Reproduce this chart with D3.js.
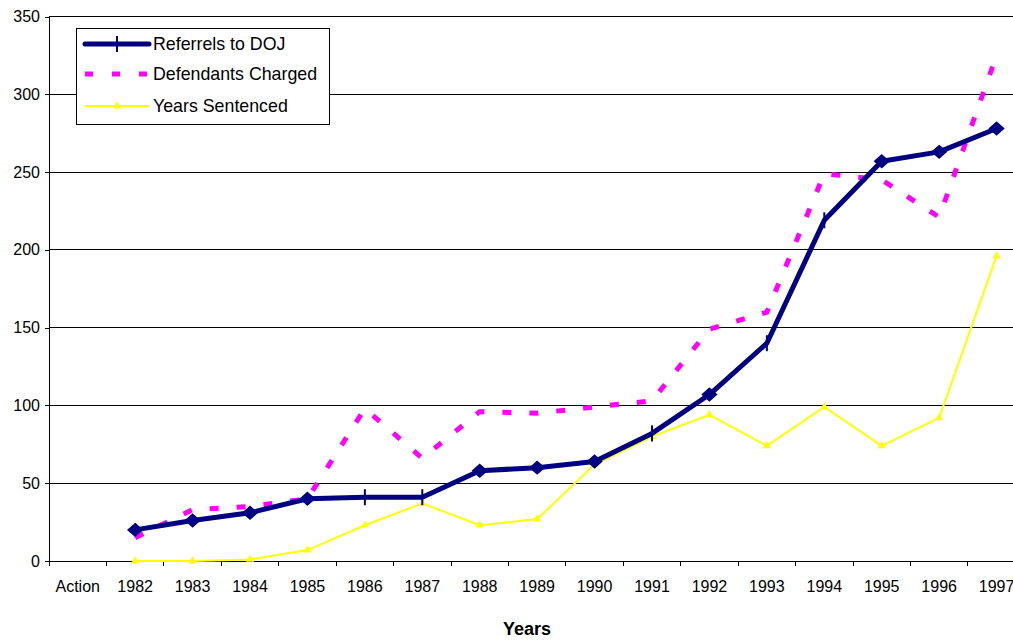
<!DOCTYPE html>
<html>
<head>
<meta charset="utf-8">
<script src="https://cdn.jsdelivr.net/npm/d3@7/dist/d3.min.js"></script>
<style>
  html, body { margin: 0; padding: 0; background: #fff; }
  svg { display: block; font-family: "Liberation Sans", Arial, sans-serif; }
</style>
</head>
<body>
<svg id="chart" width="1013" height="640"></svg>
<script>
// Category axis: the first slot is the "Action" label column, then the years
const categories = ["Action", "1982", "1983", "1984", "1985", "1986", "1987", "1988",
  "1989", "1990", "1991", "1992", "1993", "1994", "1995", "1996", "1997"];
const years = categories.slice(1);

const referrals = [20, 26, 31, 40, 41, 41, 58, 60, 64, 82, 107, 140, 219, 257, 263, 278];
// marker style per point of the referrals series ("d" = diamond, "t" = tick)
const referralMarkers = ["d", "d", "d", "d", "t", "t", "d", "d", "d", "t", "d", "t", "t", "d", "d", "d"];
const defendants = [15, 33, 35, 40, 98, 66, 96, 95, 99, 103, 149, 160, 249, 245, 221, 325];
const sentenced = [0, 0, 1, 7, 23, 37, 23, 27, 62, 80, 94, 74, 99, 74, 92, 196];

const yTicks = [0, 50, 100, 150, 200, 250, 300, 350];
const seriesNames = ["Referrels to DOJ", "Defendants Charged", "Years Sentenced"];

const svg = d3.select("#chart");
const plotLeft = 49, plotRight = 1025.3, plotTop = 16.5, plotBottom = 561;

const x = d3.scaleBand().domain(categories).range([plotLeft, plotRight]).padding(0);
const y = d3.scaleLinear().domain([0, 350]).range([plotBottom, plotTop]);
const cx = d => x(d) + x.bandwidth() / 2;

// horizontal gridlines
svg.append("g")
  .selectAll("line")
  .data(yTicks.filter(t => t > 0))
  .join("line")
  .attr("x1", plotLeft).attr("x2", 1013)
  .attr("y1", d => y(d)).attr("y2", d => y(d))
  .attr("stroke", "#000").attr("stroke-width", 1).attr("shape-rendering", "crispEdges");

// y axis
const yAxis = svg.append("g")
  .attr("transform", `translate(${plotLeft},0)`)
  .call(d3.axisLeft(y).tickValues(yTicks).tickSize(4).tickPadding(5).tickFormat(d3.format("d")));
yAxis.select(".domain").attr("stroke", "#000").attr("shape-rendering", "crispEdges");
yAxis.selectAll(".tick line").attr("shape-rendering", "crispEdges");
yAxis.selectAll("text").attr("font-size", 16).attr("fill", "#000")
  .attr("font-family", "Liberation Sans, Arial, sans-serif");

// x axis with ticks on category boundaries
const xAxis = svg.append("g").attr("transform", `translate(0,${plotBottom})`);
xAxis.append("line").attr("x1", plotLeft).attr("x2", 1013).attr("y1", 0).attr("y2", 0)
  .attr("stroke", "#000").attr("shape-rendering", "crispEdges");
xAxis.selectAll("line.bt")
  .data(categories)
  .join("line").attr("class", "bt")
  .attr("x1", d => x(d)).attr("x2", d => x(d))
  .attr("y1", 0).attr("y2", 5)
  .attr("stroke", "#000").attr("shape-rendering", "crispEdges");
xAxis.selectAll("text")
  .data(categories)
  .join("text")
  .attr("x", d => cx(d)).attr("y", 31)
  .attr("text-anchor", "middle").attr("font-size", 16).attr("fill", "#000")
  .text(d => d);

// axis title
svg.append("text")
  .attr("x", 527).attr("y", 635)
  .attr("text-anchor", "middle").attr("font-size", 18).attr("font-weight", "bold")
  .text("Years");

const line = d3.line().x((d, i) => cx(years[i])).y(d => y(d));

// Years Sentenced
svg.append("path").datum(sentenced)
  .attr("d", line).attr("fill", "none")
  .attr("stroke", "#FFFF00").attr("stroke-width", 2);
const tri = d3.symbol().type(d3.symbolTriangle).size(30);
svg.append("g").selectAll("path")
  .data(sentenced)
  .join("path")
  .attr("transform", (d, i) => `translate(${cx(years[i])},${y(d)})`)
  .attr("d", tri).attr("fill", "#FFFF00");

// Defendants Charged
svg.append("path").datum(defendants)
  .attr("d", line).attr("fill", "none")
  .attr("stroke", "#FF00FF").attr("stroke-width", 5)
  .attr("stroke-dasharray", "9,18");

// Referrals to DOJ
svg.append("path").datum(referrals)
  .attr("d", line).attr("fill", "none")
  .attr("stroke", "#000080").attr("stroke-width", 5).attr("stroke-linejoin", "round");

const diamond = "M0,-6.2L7,0L0,6.2L-7,0Z";
const rm = svg.append("g");
referrals.forEach((v, i) => {
  const px = cx(years[i]), py = y(v);
  if (referralMarkers[i] === "d") {
    rm.append("path").attr("d", diamond)
      .attr("transform", `translate(${px},${py})`)
      .attr("fill", "#000080").attr("stroke", "#000080").attr("stroke-width", 1.5);
  } else {
    rm.append("line").attr("x1", px).attr("x2", px)
      .attr("y1", py - 8).attr("y2", py + 8)
      .attr("stroke", "#000080").attr("stroke-width", 2);
  }
});

// legend
const lg = svg.append("g");
lg.append("rect").attr("x", 76.5).attr("y", 28.5).attr("width", 253).attr("height", 96)
  .attr("fill", "#fff").attr("stroke", "#000").attr("stroke-width", 1);
const rows = [44, 74, 106];
const lx1 = 85, lx2 = 149, lmid = 117;
// referrals sample
lg.append("line").attr("x1", lx1).attr("x2", lx2).attr("y1", rows[0]).attr("y2", rows[0])
  .attr("stroke", "#000080").attr("stroke-width", 5).attr("stroke-linecap", "round");
lg.append("line").attr("x1", lmid).attr("x2", lmid).attr("y1", rows[0] - 8).attr("y2", rows[0] + 8)
  .attr("stroke", "#000080").attr("stroke-width", 2);
// defendants sample
lg.append("line").attr("x1", lx1).attr("x2", lx2).attr("y1", rows[1]).attr("y2", rows[1])
  .attr("stroke", "#FF00FF").attr("stroke-width", 5).attr("stroke-dasharray", "8,19");
// sentenced sample
lg.append("line").attr("x1", lx1).attr("x2", lx2).attr("y1", rows[2]).attr("y2", rows[2])
  .attr("stroke", "#FFFF00").attr("stroke-width", 2);
lg.append("path").attr("d", tri).attr("transform", `translate(${lmid},${rows[2]})`)
  .attr("fill", "#FFFF00");
lg.selectAll("text.lab")
  .data(seriesNames)
  .join("text").attr("class", "lab")
  .attr("x", 153).attr("y", (d, i) => rows[i] + 6)
  .attr("font-size", 17.8).attr("fill", "#000")
  .text(d => d);
</script>
</body>
</html>
